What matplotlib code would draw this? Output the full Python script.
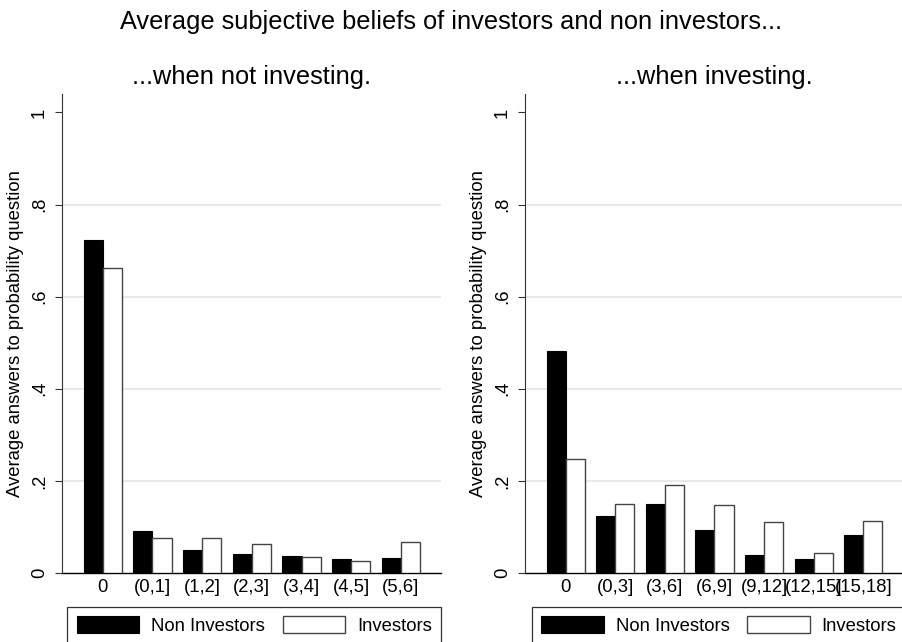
import matplotlib
matplotlib.use("Agg")
import matplotlib.pyplot as plt
import numpy as np

plt.rcParams["font.family"] = ["Liberation Sans", "DejaVu Sans"]

# average answers by bin, non investors vs investors
not_investing_bins = ["0", "(0,1]", "(1,2]", "(2,3]", "(3,4]", "(4,5]", "(5,6]"]
not_investing_non = [0.722, 0.092, 0.050, 0.042, 0.037, 0.030, 0.033]
not_investing_inv = [0.663, 0.076, 0.075, 0.062, 0.035, 0.026, 0.067]

investing_bins = ["0", "(0,3]", "(3,6]", "(6,9]", "(9,12]", "(12,15]", "(15,18]"]
investing_non = [0.483, 0.123, 0.150, 0.094, 0.040, 0.031, 0.082]
investing_inv = [0.247, 0.149, 0.192, 0.148, 0.111, 0.043, 0.113]

y_ticks = [0, 0.2, 0.4, 0.6, 0.8, 1.0]
y_tick_labels = ["0", ".2", ".4", ".6", ".8", "1"]

panel_titles = ["...when not investing.", "...when investing."]
series_names = ["Non Investors", "Investors"]

W, H = 903, 642
fig = plt.figure(figsize=(W / 100, H / 100), dpi=100)


def draw_panel(ax, bins, non_vals, inv_vals, title, legend_anchor):
    x = np.arange(len(bins))
    w = 0.385
    b1 = ax.bar(x - w / 2, non_vals, w, color="black", edgecolor="black",
                linewidth=0.8, label=series_names[0], zorder=3)
    b2 = ax.bar(x + w / 2, inv_vals, w, color="white", edgecolor="#444444",
                linewidth=1.0, label=series_names[1], zorder=3)

    # light grid at the inner ticks only
    for t in y_ticks[1:-1]:
        ax.axhline(t, color="#e9e9e9", linewidth=1.5, zorder=1)

    ax.set_xlim(-0.82, 6.80)
    ax.set_ylim(0, 1.04)
    ax.set_xticks(x)
    ax.set_xticklabels(bins, fontsize=13.3)
    ax.tick_params(axis="x", length=0, pad=4)
    ax.set_yticks(y_ticks)
    ax.set_yticklabels(y_tick_labels, rotation=90, va="center", fontsize=13.3)
    ax.tick_params(axis="y", length=5, width=0.8, pad=5, color="#333333")
    ax.set_ylabel("Average answers to probability question", fontsize=13.3,
                  labelpad=5)

    for side in ("top", "right"):
        ax.spines[side].set_visible(False)
    ax.spines["left"].set_linewidth(0.8)
    ax.spines["left"].set_color("#333333")
    ax.spines["bottom"].set_linewidth(1.0)

    ax.set_title(title, fontsize=18.3, pad=7)

    leg = ax.legend(handles=[b1, b2], loc="upper left", ncol=2,
                    bbox_to_anchor=legend_anchor,
                    borderaxespad=0, fontsize=13.3, frameon=True,
                    fancybox=False, handlelength=3.4, handleheight=1.0,
                    handletextpad=0.64, borderpad=0.5, columnspacing=0.95)
    leg.get_frame().set_edgecolor("black")
    leg.get_frame().set_linewidth(0.9)


ax1 = fig.add_axes([62 / W, 1 - 573 / H, 378.7 / W, 479 / H])
ax2 = fig.add_axes([525 / W, 1 - 573 / H, 378 / W, 479 / H])

draw_panel(ax1, not_investing_bins, not_investing_non, not_investing_inv,
           panel_titles[0], (0.014, -0.071))
draw_panel(ax2, investing_bins, investing_non, investing_inv,
           panel_titles[1], (0.0177, -0.071))

fig.suptitle("Average subjective beliefs of investors and non investors...",
             fontsize=18.3, y=1 - 22 / H, va="center")

fig.savefig("out.png", dpi=100)
